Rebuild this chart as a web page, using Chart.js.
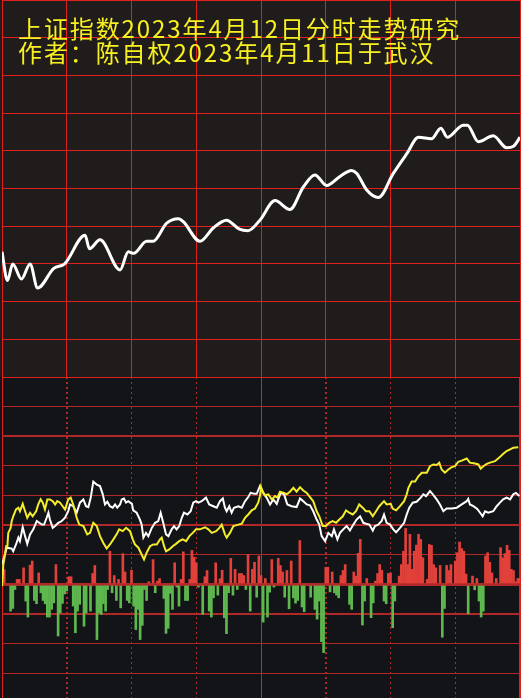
<!DOCTYPE html>
<html>
<head>
<meta charset="utf-8">
<script src="https://cdn.jsdelivr.net/npm/chart.js@4"></script>
<style>
  html, body { margin: 0; padding: 0; background: #131417; overflow: hidden; }
  #wrap { position: relative; width: 521px; height: 698px; overflow: hidden; background: #131417; }
  #topPanel { position: absolute; left: 0; top: 0; width: 521px; height: 378px; background: #201c1b; }
  #bottomPanel { position: absolute; left: 0; top: 377px; width: 521px; height: 330px; background: #131417; }
  .judul {
    position: absolute;
    left: 18px;
    font-family: "Noto Sans CJK SC", sans-serif;
    font-size: 24px;
    line-height: 24px;
    letter-spacing: 1.9px;
    color: #f8f020;
    white-space: nowrap;
  }
</style>
</head>
<body>
<div id="wrap">
  <canvas id="topPanel" width="521" height="378"></canvas>
  <canvas id="bottomPanel" width="521" height="330"></canvas>
  <div class="judul" style="top:16px">上证指数2023年4月12日分时走势研究</div>
  <div class="judul" style="top:40px">作者：陈自权2023年4月11日于武汉</div>
</div>
<script>
/* =========================
  Data (x = menit sejak pembukaan, 0..240)
========================= */
// panel atas: kurva harga (% perubahan)
const topMin = [0,2.5,5,9,13,16.5,24,29,38.5,40.5,45.4,54.7,58.5,61,67,70,76.3,81.7,84,91.7,98,104,110,114,119.5,126.5,133.4,139.6,145,150.4,156.6,162,164.4,169,174.4,181.3,187.5,193,199,203.3,206.3,213.7,215.6,220.7,227.6,233.8,237,240];
const topVal = [-0.42,-0.61,-0.50,-0.60,-0.50,-0.66,-0.53,-0.50,-0.31,-0.40,-0.34,-0.54,-0.42,-0.43,-0.35,-0.35,-0.23,-0.20,-0.22,-0.35,-0.26,-0.21,-0.27,-0.28,-0.21,-0.08,-0.14,0.01,0.09,0.02,0.08,0.12,0.10,-0.01,-0.06,0.10,0.23,0.34,0.33,0.40,0.34,0.42,0.42,0.31,0.35,0.27,0.28,0.34];

// panel bawah: garis putih
const whiteMin = [0,2.2,4.5,5.2,6.8,7.6,8.3,9.6,10.7,11.7,13.0,14.5,16.1,17.3,18.4,19.5,20.7,21.5,22.2,23.5,24.6,26.1,27.7,29.2,30.7,31.5,33.0,34.6,36.1,37.7,38.9,40.0,41.1,42.3,43.9,45.4,46.7,47.7,48.8,50.0,51.3,52.4,53.4,54.7,55.5,56.5,57.5,58.5,60.2,60.8,62.4,63.9,64.7,65.5,66.7,67.8,69.4,70.9,72.4,73.5,74.7,76.0,77.1,78.6,79.7,80.9,82.1,83.3,84.3,85.9,87.4,88.6,89.9,91.0,92.5,94.5,96.0,97.9,99.5,101.0,102.3,103.3,104.1,105.3,106.4,107.5,109.5,111.1,112.6,114.1,115.2,116.8,118.0,119.5,121.1,122.6,124.2,125.7,127.3,128.0,129.1,130.7,132.2,134.2,136.5,138.1,139.6,141.2,142.7,144.2,145.8,147.0,148.1,149.7,151.2,152.8,153.8,155.4,156.6,158.1,159.7,161.2,162.8,164.3,165.9,167.4,168.7,170.2,171.8,172.8,174.3,175.9,177.0,178.2,179.8,181.3,182.6,184.4,186.3,187.5,188.7,190.3,192.1,194.0,195.2,196.5,198.3,199.6,201.4,202.9,204.5,206.0,208.4,210.7,213.0,215.3,216.0,216.8,218.4,220.2,221.5,222.7,223.8,225.3,227.6,229.2,230.7,232.2,233.8,235.4,236.9,238.1,239.7];
const whiteVal = [6.7,12.4,12.1,11.2,14.1,15.8,14.6,19.3,16.3,13.7,16.9,18.6,21.4,20.8,20.2,20.2,22.5,24.2,21.9,19.1,19.7,20.8,21.4,22.5,24.7,27.0,26.4,24.2,27.6,28.7,26.4,26.1,29.3,34.7,33.7,33.2,30.4,27.0,27.9,26.4,25.9,27.0,25.9,27.0,28.7,29.0,27.6,28.1,27.2,25.0,24.2,21.9,20.2,15.8,17.4,16.3,19.1,20.8,21.4,24.2,20.8,16.9,16.3,18.6,19.7,18.6,19.7,22.5,24.2,23.6,24.7,27.6,28.1,27.6,28.1,29.3,27.0,26.4,25.9,28.1,29.0,25.9,24.7,26.4,24.2,25.9,26.4,25.9,28.1,29.5,30.9,30.6,30.6,33.2,30.9,29.3,27.0,28.7,27.2,28.7,30.9,30.4,27.0,26.4,26.1,29.0,28.1,27.0,26.7,24.7,21.9,20.2,16.3,14.6,17.4,16.3,18.6,15.2,17.4,18.6,19.7,18.2,20.2,21.9,23.0,20.8,20.5,20.2,18.2,19.7,20.2,21.4,23.6,20.8,20.2,18.6,17.6,19.1,20.8,23.6,25.9,27.6,27.9,29.3,30.4,29.8,31.5,30.4,28.7,27.0,24.7,25.6,25.6,25.9,27.0,28.1,28.9,27.0,26.4,25.5,24.2,23.0,24.7,24.2,24.7,26.4,27.6,28.7,29.3,28.7,30.4,30.9,29.8];

// panel bawah: garis kuning
const yellowMin = [0,0.6,1.4,1.9,2.5,2.9,4.0,4.5,5.2,6.5,7.6,8.3,9.6,10.7,11.7,13.0,14.2,15.8,16.8,17.9,18.9,19.9,21.0,22.2,23.5,24.6,25.6,26.9,28.1,29.2,30.7,31.8,33.0,34.6,35.8,37.7,39.5,40.8,42.3,43.9,45.4,46.9,48.5,50.0,51.6,53.1,54.3,55.9,57.5,59.3,60.6,61.6,63.2,64.7,65.8,67.0,68.6,70.1,71.7,73.2,74.0,75.1,76.0,77.5,79.1,80.6,82.1,83.7,85.3,86.8,88.4,89.9,91.7,94.1,95.6,97.2,99.2,100.7,101.8,103.3,104.1,105.6,107.2,109.5,111.1,112.6,114.1,115.7,117.2,118.7,119.5,120.0,121.0,121.9,123.4,125.0,126.5,127.6,128.8,130.7,131.9,133.4,135.0,136.5,138.1,139.6,141.2,142.7,144.2,145.8,147.0,148.6,150.1,151.6,153.2,154.8,156.3,157.9,159.4,160.9,162.5,164.0,165.5,167.1,168.6,170.2,171.8,173.3,174.8,177.0,178.2,180.1,181.0,182.6,184.4,186.3,187.5,188.3,189.8,191.4,192.9,194.5,196.8,198.3,199.8,201.4,202.6,203.7,205.2,206.8,208.4,209.9,211.4,213.0,215.3,216.8,219.2,220.7,221.8,223.0,224.6,226.1,228.4,230.4,232.0,233.8,235.4,236.9,239.2];
const yellowVal = [-0.6,6.7,10.1,12.9,12.9,17.4,19.1,21.4,23.0,25.3,25.9,24.7,27.2,24.7,22.5,24.2,23.0,24.7,27.0,28.7,27.6,25.3,28.7,28.7,28.1,27.0,28.1,27.6,26.4,25.3,28.7,29.3,27.0,22.5,20.2,19.7,16.9,17.4,20.8,19.7,16.3,14.1,12.1,13.5,15.2,16.9,18.6,18.0,19.1,18.0,15.2,13.5,12.4,10.1,8.4,10.7,12.9,13.5,13.5,15.2,15.8,12.9,11.2,11.8,12.9,13.7,14.6,15.2,14.6,16.3,17.4,18.6,18.6,19.3,18.6,17.4,18.0,19.1,20.2,16.9,15.8,17.4,19.7,20.2,20.5,22.5,23.6,25.0,25.6,27.6,29.8,32.9,30.9,30.1,30.4,28.7,29.8,29.3,31.3,30.9,30.4,31.3,32.6,31.3,32.8,31.7,30.9,29.5,28.1,24.7,23.0,19.7,19.7,20.8,21.4,20.8,21.9,23.0,25.0,24.2,23.6,24.7,27.0,25.9,24.7,24.7,23.0,24.7,26.4,28.1,27.0,27.2,25.6,25.0,26.4,28.1,30.4,32.6,34.7,34.7,36.5,37.7,37.7,39.9,40.5,40.3,41.1,38.8,37.7,38.8,39.6,39.9,41.4,41.8,42.5,41.1,40.8,40.5,39.1,39.9,40.7,41.1,41.6,42.8,43.9,45.0,45.6,46.1,46.3];

// panel bawah: batang merah (+) / hijau (-)
const barMin = [0,1,4,5,6,7,8,10,11,12,13,14,15,16,17,18,19,20,21,22,23,24,25,26,27,28,29,30,31,32,33,34,35,36,38,39,41,42,43,44,45,46,47,48,49,50,51,52,53,54,55,56,57,58,59,60,61,62,63,64,65,66,67,68,70,71,72,73,75,76,77,78,79,80,81,82,83,84,85,86,87,88,89,90,91,93,94,95,96,97,98,99,100,101,102,103,104,105,106,107,108,109,110,111,112,113,114,115,116,117,118,119,120,121,122,123,124,125,126,128,129,130,131,132,133,134,135,136,137,138,139,140,143,145,146,147,148,149,150,151,152,153,154,155,156,157,158,159,161,162,163,164,165,166,167,168,169,171,172,173,174,175,176,177,178,179,180,181,182,184,185,186,187,188,189,190,191,192,193,194,195,197,198,199,200,201,203,204,205,206,207,208,210,211,212,213,214,215,216,218,219,220,221,222,223,224,225,226,227,229,231,232,233,234,235,236,237,238,239,240];
const barVal = [6.2,5.0,-9.0,-8.1,-1.7,1.7,1.7,5.6,-5.6,-11.0,6.5,7.9,-5.4,-6.5,3.9,-2.8,-5.4,-6.5,-11.0,-11.0,-8.4,-6.2,6.7,-17.4,-9.6,-6.4,-3.2,-2.2,2.6,2.6,-7.3,-16.3,-9.0,-6.7,-14.1,-9.6,-9.0,3.7,6.4,-18.6,-9.6,-10.1,-6.5,-9.0,-1.7,11.2,-2.8,3.0,-5.4,1.7,-7.9,10.4,4.2,-5.4,-6.2,4.8,-7.3,-15.2,-8.4,-18.6,-13.8,-1.7,-5.4,0.9,8.4,-2.8,1.1,2.0,-4.7,-16.5,-14.8,-3.0,-8.4,7.3,-0.9,-7.3,1.7,11.0,-5.4,-5.4,1.7,11.5,9.2,7.3,-0.9,-10.1,2.6,4.7,-9.0,-11.0,-4.5,7.3,-3.6,1.9,4.8,-11.2,-16.6,-2.8,8.8,-3.6,5.1,-1.7,3.7,3.7,3.0,-1.7,10.1,-9.0,5.1,7.5,-4.3,9.6,3.0,-12.7,2.0,-11.0,-2.6,8.4,-0.9,8.8,6.4,4.2,-4.3,4.7,-8.2,7.9,-4.5,-6.3,-5.4,14.8,-7.6,-9.2,-4.3,-8.4,-11.7,-5.6,-19.3,-23.0,5.8,5.8,-2.5,4.2,-2.8,-3.6,-4.5,3.0,4.7,6.7,-6.7,-8.4,4.2,2.8,10.5,15.2,-13.7,-5.6,2.0,-11.2,-6.2,1.1,3.7,6.7,4.8,-5.6,-6.5,3.7,3.9,-14.6,-5.6,2.8,6.7,11.2,18.9,6.7,16.9,5.1,11.2,13.3,16.9,15.2,9.0,1.7,13.5,13.2,6.7,5.6,6.4,-17.8,-8.1,6.4,4.7,6.7,7.9,10.7,14.3,12.1,11.2,3.5,-9.9,2.8,-1.8,2.0,-5.6,-11.0,-9.0,9.6,10.7,7.5,3.9,2.0,12.4,9.0,10.4,13.2,11.5,5.1,4.7,0.9,2.0,2.0];

/* =========================
  Helper
========================= */
function pasangkan(xs, ys) {
  return xs.map((x, i) => ({ x, y: ys[i] }));
}

function nilaiTick(c) {
  return c.tick ? c.tick.value : null;
}

const MERAH = "#e0201c";
const MERAH_GELAP = "#b02828";

/* =========================
  Panel atas
========================= */
new Chart(document.getElementById("topPanel"), {
  type: "line",
  data: {
    datasets: [{
      data: pasangkan(topMin, topVal),
      borderColor: "#ffffff",
      borderWidth: 3,
      pointRadius: 0,
      cubicInterpolationMode: "monotone"
    }]
  },
  options: {
    responsive: false,
    animation: false,
    layout: { padding: { left: 2, right: 1, top: 0, bottom: 1 }, autoPadding: false },
    plugins: { legend: { display: false }, tooltip: { enabled: false } },
    scales: {
      x: {
        type: "linear", min: 0, max: 240,
        ticks: { display: false, stepSize: 30 },
        grid: { color: MERAH, lineWidth: 1, drawTicks: false },
        border: { display: false }
      },
      y: {
        min: -1.25, max: 1.25,
        ticks: { display: false, stepSize: 0.25 },
        grid: { color: MERAH, lineWidth: 1, drawTicks: false },
        border: { display: false }
      }
    }
  }
});

/* =========================
  Panel bawah
========================= */
const tebal = { "0": 3, "50": 2, "20": 2, "-10": 2 };

new Chart(document.getElementById("bottomPanel"), {
  type: "bar",
  data: {
    datasets: [
      {
        type: "line",
        data: pasangkan(whiteMin, whiteVal),
        borderColor: "#ffffff",
        borderWidth: 2,
        pointRadius: 0,
        tension: 0,
        order: 1
      },
      {
        type: "line",
        data: pasangkan(yellowMin, yellowVal),
        borderColor: "#f5ec2c",
        borderWidth: 2,
        pointRadius: 0,
        tension: 0,
        order: 0
      },
      {
        type: "bar",
        data: pasangkan(barMin, barVal),
        backgroundColor: barVal.map(v => v >= 0 ? "#e2403a" : "#5db84e"),
        barThickness: 2,
        order: 2
      }
    ]
  },
  options: {
    responsive: false,
    animation: false,
    layout: { padding: { left: 2, right: 1, top: 0, bottom: 4 }, autoPadding: false },
    plugins: { legend: { display: false }, tooltip: { enabled: false } },
    scales: {
      x: {
        type: "linear", min: 0, max: 240, offset: false,
        ticks: { display: false, stepSize: 30 },
        grid: {
          offset: false,
          drawTicks: false,
          color: c => nilaiTick(c) % 120 === 0 ? "transparent" : MERAH_GELAP,
          lineWidth: c => (nilaiTick(c) === 30 || nilaiTick(c) === 150) ? 2 : 1
        },
        border: { display: false, dash: [2, 3] }
      },
      x2: {
        type: "linear", min: 0, max: 240, offset: false, position: "bottom",
        ticks: { display: false, stepSize: 120 },
        grid: {
          offset: false,
          drawTicks: false,
          color: MERAH,
          lineWidth: c => nilaiTick(c) === 240 ? 2 : 1
        },
        border: { display: false }
      },
      y: {
        min: -40, max: 70,
        ticks: { display: false, stepSize: 10 },
        grid: {
          drawTicks: false,
          color: c => nilaiTick(c) === 70 ? MERAH : MERAH_GELAP,
          lineWidth: c => tebal[String(nilaiTick(c))] || 1
        },
        border: { display: false }
      }
    }
  }
});
</script>
</body>
</html>
